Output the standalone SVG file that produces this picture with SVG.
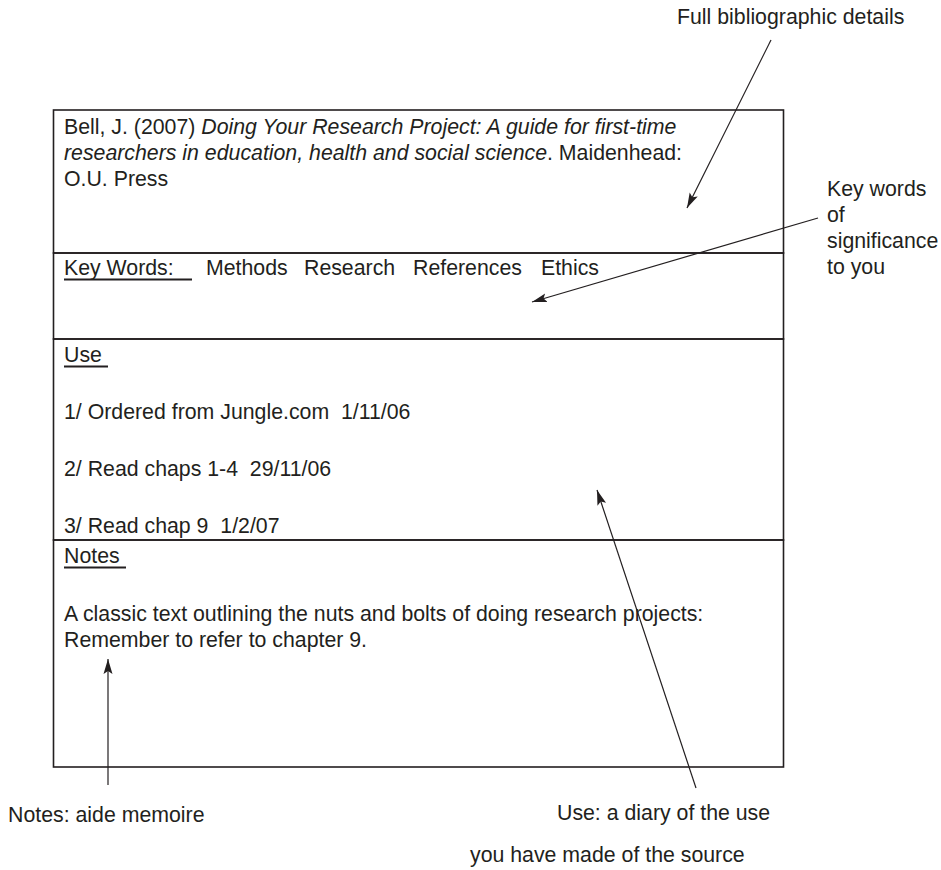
<svg xmlns="http://www.w3.org/2000/svg" width="941" height="870" viewBox="0 0 941 870">
  <style>
    text { font-family: "Liberation Sans", Arial, sans-serif; font-size: 21.3px; fill: #231f20; }
    .it { font-style: italic; }
    .box { fill: none; stroke: #231f20; stroke-width: 1.6; }
    .ul { stroke: #231f20; stroke-width: 2; }
    .conn { fill: none; stroke: #231f20; stroke-width: 1.2; marker-end: url(#ah); }
  </style>
  <defs>
    <marker id="ah" markerUnits="userSpaceOnUse" markerWidth="16" markerHeight="10" refX="15" refY="5" orient="auto">
      <path d="M0,0.5 L15,5 L0,9.5 L3,5 Z" fill="#231f20"/>
    </marker>
  </defs>
  <rect width="941" height="870" fill="#ffffff"/>

  <g id="bib-section">
    <rect class="box" x="53.5" y="110" width="730" height="143"/>
    <text x="64" y="134" xml:space="preserve">Bell, J. (2007) <tspan class="it">Doing Your Research Project: A guide for first-time</tspan></text>
    <text x="64" y="160" xml:space="preserve"><tspan class="it">researchers in education, health and social science</tspan>. Maidenhead:</text>
    <text x="64" y="186">O.U. Press</text>
  </g>

  <g id="keywords-section">
    <rect class="box" x="53.5" y="253" width="730" height="86"/>
    <text x="64" y="275">Key Words:</text>
    <line class="ul" x1="64" y1="279.5" x2="192" y2="279.5"/>
    <text x="206" y="275">Methods</text>
    <text x="304" y="275">Research</text>
    <text x="413" y="275">References</text>
    <text x="541" y="275">Ethics</text>
  </g>

  <g id="use-section">
    <rect class="box" x="53.5" y="339" width="730" height="201"/>
    <text x="64" y="362">Use</text>
    <line class="ul" x1="64" y1="366.5" x2="108" y2="366.5"/>
    <text x="64" y="419" xml:space="preserve">1/ Ordered from Jungle.com  1/11/06</text>
    <text x="64" y="476" xml:space="preserve">2/ Read chaps 1-4  29/11/06</text>
    <text x="64" y="533" xml:space="preserve">3/ Read chap 9  1/2/07</text>
  </g>

  <g id="notes-section">
    <rect class="box" x="53.5" y="540" width="730" height="227"/>
    <text x="64" y="563">Notes</text>
    <line class="ul" x1="64" y1="567.5" x2="126" y2="567.5"/>
    <text x="64" y="621">A classic text outlining the nuts and bolts of doing research projects:</text>
    <text x="64" y="647">Remember to refer to chapter 9.</text>
  </g>

  <g id="label-bibliographic">
    <text x="677" y="24">Full bibliographic details</text>
  </g>
  <g id="label-keywords">
    <text x="827" y="196">Key words</text>
    <text x="827" y="222">of</text>
    <text x="827" y="248">significance</text>
    <text x="827" y="274">to you</text>
  </g>
  <g id="label-notes">
    <text x="8" y="822">Notes: aide memoire</text>
  </g>
  <g id="label-use">
    <text x="557" y="820">Use: a diary of the use</text>
    <text x="470" y="862">you have made of the source</text>
  </g>

  <g id="connectors">
    <line class="conn" x1="771" y1="40" x2="687" y2="208"/>
    <line class="conn" x1="818" y1="218" x2="532" y2="302"/>
    <line class="conn" x1="696" y1="788" x2="597" y2="490"/>
    <line class="conn" x1="108" y1="785" x2="108" y2="659"/>
  </g>
</svg>
